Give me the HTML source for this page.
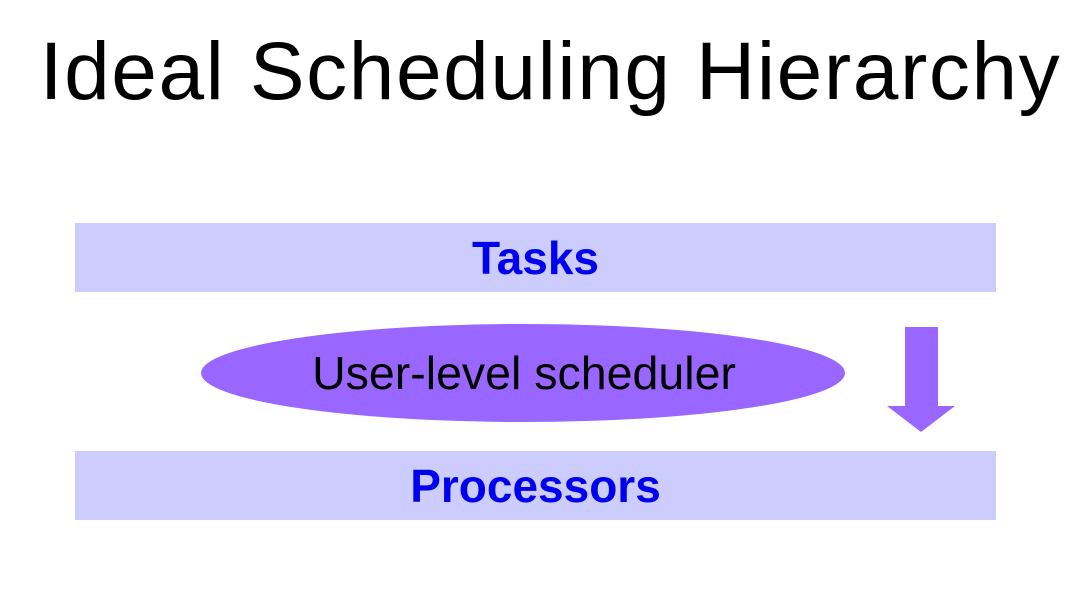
<!DOCTYPE html>
<html><head><style>
body{margin:0;width:1085px;height:614px;background:#fff;position:relative;overflow:hidden;font-family:"Liberation Sans",Arial,sans-serif}
.t{position:absolute;left:8px;width:1085px;top:27px;text-align:center;font-size:82px;letter-spacing:1.6px;color:#000;line-height:90px}
.bar{position:absolute;left:75px;width:921px;height:69px;background:#ccccff;color:#0000ee;font-weight:bold;font-size:46px;text-align:center;line-height:71px}
</style></head><body>
<div class="t">Ideal Scheduling Hierarchy</div>
<div class="bar" style="top:223px">Tasks</div>
<div class="bar" style="top:451px">Processors</div>
<svg style="position:absolute;left:0;top:0" width="1085" height="614">
<ellipse cx="523" cy="373" rx="322" ry="49" fill="#9966ff"/>
<text x="524" y="389" text-anchor="middle" font-size="46.5" font-family="Liberation Sans, Arial, sans-serif" fill="#000">User-level scheduler</text>
<polygon points="905,327 938,327 938,406 955,406 921,432 887,406 905,406" fill="#9966ff"/>
</svg>
</body></html>
